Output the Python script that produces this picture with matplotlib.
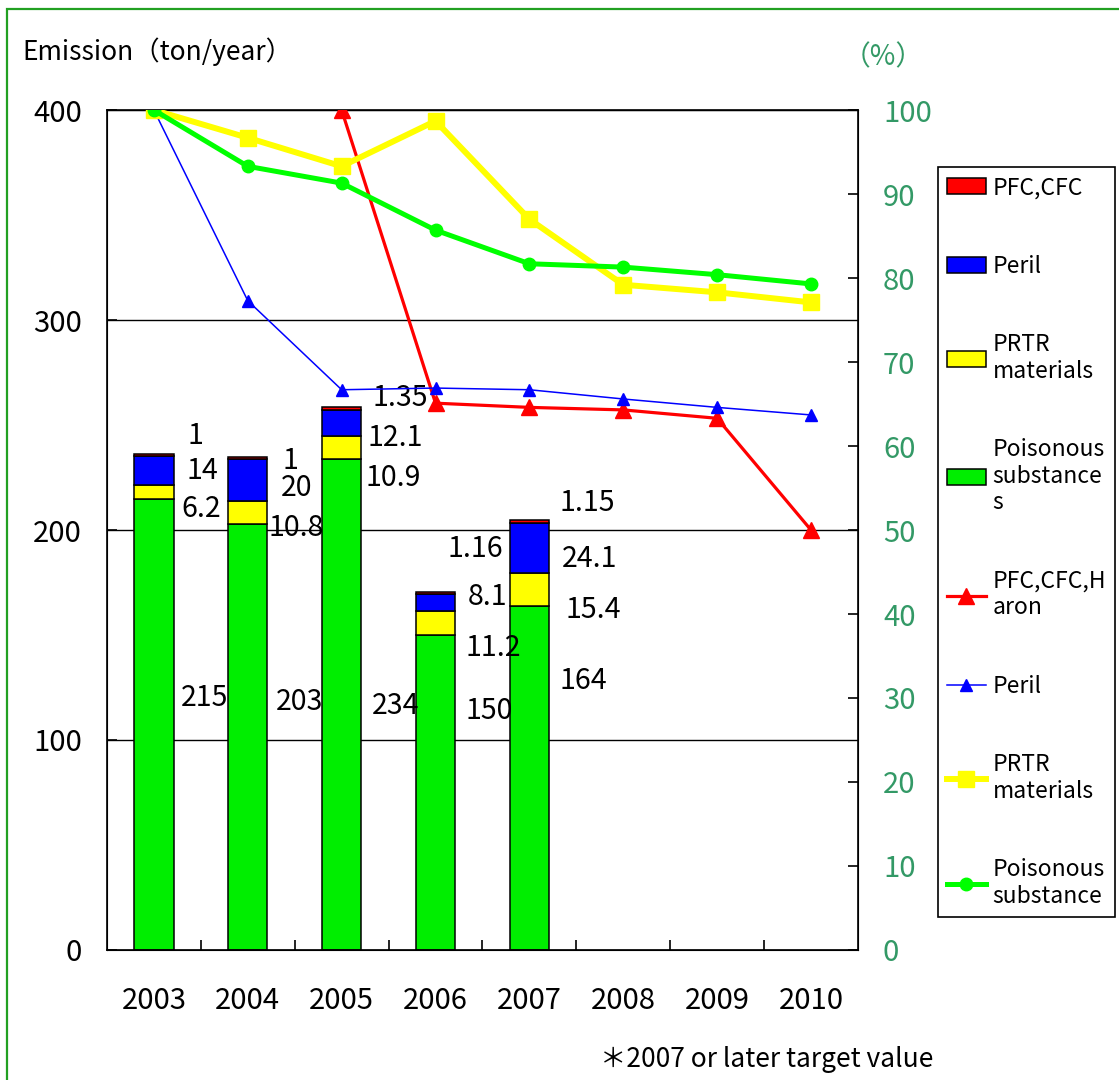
import numpy as np
import matplotlib.pyplot as plt
from matplotlib.patches import Rectangle

plt.rcParams['font.family'] = ['Noto Sans CJK JP', 'DejaVu Sans']

# data
years = ['2003', '2004', '2005', '2006', '2007', '2008', '2009', '2010']
bar_years = ['2003', '2004', '2005', '2006', '2007']
poison_ton = [215, 203, 234, 150, 164]
prtr_ton = [6.2, 10.8, 10.9, 11.2, 15.4]
peril_ton = [14, 20, 12.1, 8.1, 24.1]
pfc_ton = [1, 1, 1.35, 1.16, 1.15]

poison_pct = [100, 93.3, 91.3, 85.7, 81.7, 81.3, 80.4, 79.3]
prtr_pct = [100, 96.7, 93.3, 98.7, 87.0, 79.2, 78.3, 77.1]
peril_pct = [100, 77.3, 66.7, 66.9, 66.7, 65.6, 64.6, 63.7]
pfc_pct = [np.nan, np.nan, 100, 65.1, 64.6, 64.3, 63.3, 50]

# where the (hand-dragged) data labels sit: (x offset from bar, y in tons)
lab_pfc = [(0.44, 245), (0.45, 233), (0.62, 263), (0.42, 191), (0.62, 213)]
lab_peril = [(0.52, 228), (0.52, 220), (0.57, 244), (0.55, 168), (0.64, 186)]
lab_prtr = [(0.50, 210), (0.52, 201), (0.55, 225), (0.61, 144), (0.68, 162)]
lab_poison = [(0.54, 120), (0.55, 118), (0.57, 116), (0.57, 114), (0.57, 128)]

GREEN = '#00ee00'
TEAL = '#339966'

fig = plt.figure(figsize=(11.19, 10.8), dpi=100)
ax = fig.add_axes([0.0956, 0.1204, 0.6711, 0.7777])
ax2 = ax.twinx()

x = np.arange(len(years))
xb = np.arange(len(bar_years))
w = 0.42
b1 = ax.bar(xb, poison_ton, w, color=GREEN, edgecolor='black', linewidth=1.1, zorder=2)
bot = np.array(poison_ton, dtype=float)
b2 = ax.bar(xb, prtr_ton, w, bottom=bot, color='#ffff00', edgecolor='black', linewidth=1.1, zorder=2)
bot += prtr_ton
b3 = ax.bar(xb, peril_ton, w, bottom=bot, color='#0000ff', edgecolor='black', linewidth=1.1, zorder=2)
bot += peril_ton
b4 = ax.bar(xb, pfc_ton, w, bottom=bot, color='#ff0000', edgecolor='black', linewidth=1.1, zorder=2)

for vals, pos in [(pfc_ton, lab_pfc), (peril_ton, lab_peril), (prtr_ton, lab_prtr), (poison_ton, lab_poison)]:
    for i, (v, (dx, yy)) in enumerate(zip(vals, pos)):
        ax.text(i + dx, yy, f'{v:g}', ha='center', va='center', fontsize=20.5, zorder=5)

ax.set_xlim(-0.5, len(years) - 0.5)
ax.set_ylim(0, 400)
ax.set_yticks([0, 100, 200, 300, 400])
ax.yaxis.grid(True, color='black', linewidth=1.0)
ax.set_axisbelow(True)
ax.set_xticks(x)
ax.set_xticklabels(years)
ax.set_xticks(x[:-1] + 0.5, minor=True)
ax.tick_params(axis='x', which='major', length=0, labelsize=21, pad=26)
ax.tick_params(axis='x', which='minor', length=7, direction='in', width=1.2)
ax.tick_params(axis='y', direction='in', length=7, width=1.2, labelsize=21, pad=18)
for s in ax.spines.values():
    s.set_linewidth(1.2)

l1, = ax2.plot(x, pfc_pct, color='#ff0000', lw=2.3, marker='^', ms=11, zorder=3)
l2, = ax2.plot(x, peril_pct, color='#0000ff', lw=1.1, marker='^', ms=8, zorder=3)
l3, = ax2.plot(x, prtr_pct, color='#ffff00', lw=4.3, marker='s', ms=11, zorder=3)
l4, = ax2.plot(x, poison_pct, color='#00ff00', lw=3.6, marker='o', ms=9, zorder=3)
ax2.set_ylim(0, 100)
ax2.set_yticks(range(0, 101, 10))
ax2.tick_params(axis='y', direction='in', length=7, width=1.2, labelsize=21,
                labelcolor=TEAL, pad=18)

fig.text(0.02, 0.952, 'Emission（ton/year）', fontsize=19, va='center', ha='left')
fig.text(0.789, 0.947, '（%）', fontsize=20, va='center', ha='center', color=TEAL)
fig.text(0.536, 0.019, '＊2007 or later target value', fontsize=19, va='center', ha='left')

handles = [b4, b3, b2, b1, l1, l2, l3, l4]
labels = ['PFC,CFC', 'Peril', 'PRTR\nmaterials', 'Poisonous\nsubstance\ns',
          'PFC,CFC,H\naron', 'Peril', 'PRTR\nmaterials', 'Poisonous\nsubstance']
leg = fig.legend(handles, labels, loc='upper left', bbox_to_anchor=(0.838, 0.8454),
                 fontsize=16.5, frameon=True, fancybox=False, framealpha=1,
                 edgecolor='black', labelspacing=2.42, handlelength=1.7,
                 handletextpad=0.3, borderpad=0.4, borderaxespad=0)
leg.get_frame().set_linewidth(1.2)

fig.patches.append(Rectangle((7 / 1119, -0.2), 1.5, 1.2 - 9 / 1080, transform=fig.transFigure,
                             fill=False, edgecolor='#22a022', linewidth=1.6))

fig.savefig('out.png', dpi=100)
